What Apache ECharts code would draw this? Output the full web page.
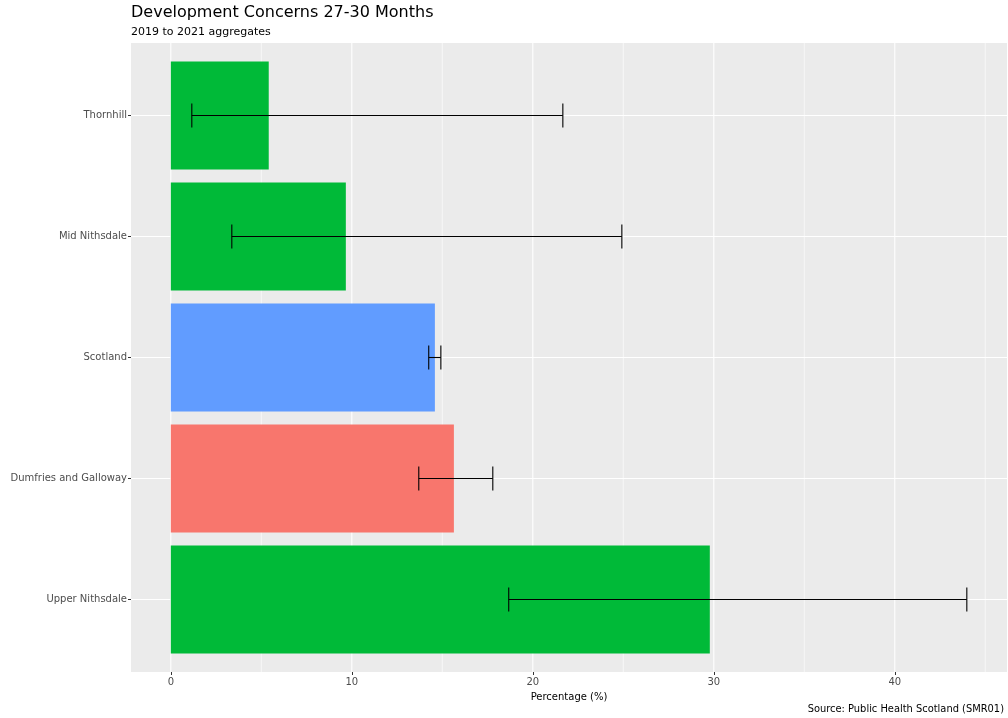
<!DOCTYPE html>
<html><head><meta charset="utf-8">
<script src="https://cdn.jsdelivr.net/npm/echarts@6/dist/echarts.min.js"></script>
<style>html,body{margin:0;padding:0;background:#fff}#c{width:1008px;height:718px}</style>
</head><body><div id="c"></div>
<script>
// Data (bottom to top order on the category axis)
const categories = ['Upper Nithsdale', 'Dumfries and Galloway', 'Scotland', 'Mid Nithsdale', 'Thornhill'];
const values = [29.78, 15.64, 14.59, 9.67, 5.41];
const lower = [18.67, 13.70, 14.25, 3.37, 1.16];
const upper = [43.98, 17.79, 14.92, 24.92, 21.66];
const groups = ['area', 'board', 'scotland', 'area', 'area'];
const xMajor = [0, 10, 20, 30, 40];
const xMinor = [5, 15, 25, 35, 45];

const groupColors = { area: '#00BA38', board: '#F8766D', scotland: '#619CFF' };
const FONT = 'DejaVu Sans';
const xMin = -2.2, xMax = 46.2;

const chart = echarts.init(document.getElementById('c'), null, { renderer: 'canvas' });

function vline(width) {
  return function (params, api) {
    const cs = params.coordSys;
    const x = api.coord([api.value(0), 0.5])[0];
    return {
      type: 'line',
      shape: { x1: x, y1: cs.y, x2: x, y2: cs.y + cs.height },
      style: { stroke: '#ffffff', lineWidth: width },
      silent: true
    };
  };
}

const option = {
  animation: false,
  backgroundColor: '#ffffff',
  textStyle: { fontFamily: FONT },
  title: [
    {
      text: 'Development Concerns 27-30 Months',
      left: 131, top: 5, padding: 0,
      textStyle: { fontFamily: FONT, fontSize: 16, fontWeight: 'normal', color: '#000000' }
    },
    {
      text: '2019 to 2021 aggregates',
      left: 131, top: 27, padding: 0,
      textStyle: { fontFamily: FONT, fontSize: 11, fontWeight: 'normal', color: '#000000' }
    },
    {
      text: 'Source: Public Health Scotland (SMR01)',
      right: 4, top: 704, padding: 0,
      textStyle: { fontFamily: FONT, fontSize: 9.9, fontWeight: 'normal', color: '#000000' }
    }
  ],
  grid: [
    { left: 131, right: 1, top: 43, bottom: 46, show: true, backgroundColor: '#EBEBEB', borderWidth: 0, containLabel: false },
    { left: 131, right: 1, top: 115.5, bottom: 118.5, show: false, containLabel: false }
  ],
  xAxis: [
    {
      gridIndex: 0, type: 'value', min: xMin, max: xMax,
      name: 'Percentage (%)', nameLocation: 'middle', nameGap: 20,
      nameTextStyle: { fontFamily: FONT, fontSize: 10, color: '#000000' },
      axisLine: { show: false },
      axisTick: { show: true, length: 3, lineStyle: { color: '#333333' }, customValues: xMajor },
      axisLabel: { show: true, fontFamily: FONT, fontSize: 10, color: '#4D4D4D', margin: 5, customValues: xMajor },
      splitLine: { show: false }
    },
    {
      gridIndex: 1, type: 'value', min: xMin, max: xMax, show: false,
      splitLine: { show: false }
    }
  ],
  yAxis: [
    { gridIndex: 0, type: 'value', min: 0, max: 1, show: false, splitLine: { show: false } },
    {
      gridIndex: 1, type: 'category', data: categories, boundaryGap: false,
      axisLine: { show: false, onZero: false },
      axisTick: { show: true, length: 3, lineStyle: { color: '#333333' } },
      axisLabel: { fontFamily: FONT, fontSize: 10, color: '#4D4D4D', margin: 4 },
      splitLine: { show: true, lineStyle: { color: '#ffffff', width: 1.1 } }
    }
  ],
  series: [
    {
      type: 'custom', xAxisIndex: 0, yAxisIndex: 0, z: 1, silent: true,
      data: xMinor.map(v => [v]), encode: { x: 0 },
      renderItem: vline(0.6)
    },
    {
      type: 'custom', xAxisIndex: 0, yAxisIndex: 0, z: 1, silent: true,
      data: xMajor.map(v => [v]), encode: { x: 0 },
      renderItem: vline(1.1)
    },
    {
      type: 'bar', xAxisIndex: 1, yAxisIndex: 1, z: 3,
      barWidth: 108,
      data: values.map((v, i) => ({ value: v, itemStyle: { color: groupColors[groups[i]] } }))
    },
    {
      type: 'custom', xAxisIndex: 1, yAxisIndex: 1, z: 4, silent: true,
      data: categories.map((c, i) => [lower[i], upper[i], i]),
      encode: { x: [0, 1], y: 2 },
      renderItem: function (params, api) {
        const lo = api.coord([api.value(0), api.value(2)]);
        const hi = api.coord([api.value(1), api.value(2)]);
        const h = 12;
        const st = { stroke: '#000000', lineWidth: 1.1 };
        return {
          type: 'group',
          children: [
            { type: 'line', shape: { x1: lo[0], y1: lo[1], x2: hi[0], y2: hi[1] }, style: st },
            { type: 'line', shape: { x1: lo[0], y1: lo[1] - h, x2: lo[0], y2: lo[1] + h }, style: st },
            { type: 'line', shape: { x1: hi[0], y1: hi[1] - h, x2: hi[0], y2: hi[1] + h }, style: st }
          ]
        };
      }
    }
  ]
};
chart.setOption(option);
</script>
</body></html>
